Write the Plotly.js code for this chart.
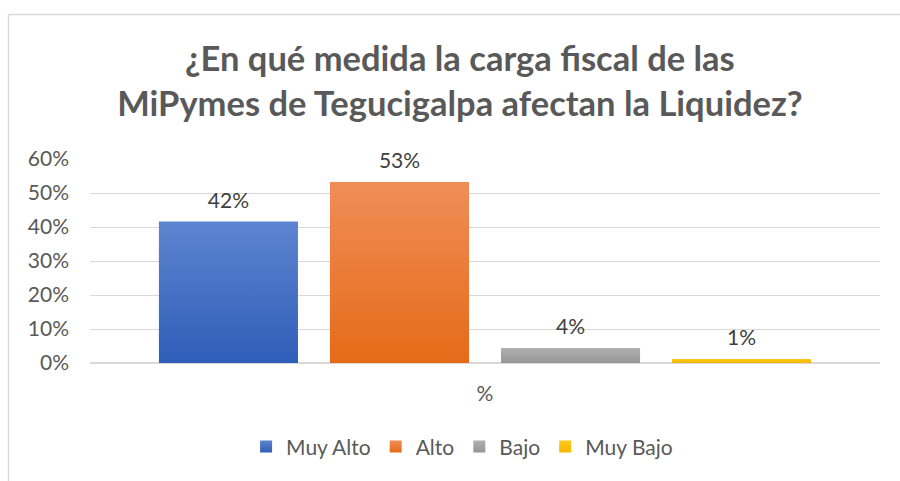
<!DOCTYPE html>
<html>
<head>
<meta charset="utf-8">
<script src="https://cdn.plot.ly/plotly-3.0.1.min.js"></script>
<style>
  html, body { margin: 0; padding: 0; background: #fff; }
  #chart { width: 900px; height: 481px; }
</style>
</head>
<body>
<div id="chart"></div>
<script>
// ---- data ----
const category = ["%"];
const seriesNames = ["Muy Alto", "Alto", "Bajo", "Muy Bajo"];
const seriesValues = [0.416, 0.532, 0.044, 0.012];
const seriesColors = ["#4472c4", "#ed7d31", "#a5a5a5", "#ffc000"];
const gradTop = ["#5d84cf", "#f08d57", "#b0b0b0", "#ffc81f"];
const gradBottom = ["#2f5eb8", "#e56b18", "#969696", "#f5b800"];
const yTickVals = [0, 0.1, 0.2, 0.3, 0.4, 0.5, 0.6];
const titleText = "¿En qué medida la carga fiscal de las<br>MiPymes de Tegucigalpa afectan la Liquidez?";

const FONT = "Lato, 'Open Sans', sans-serif";
const GREY = "#595959";
const BARGAP = 0.134;

const barTraces = seriesNames.map((name, i) => ({
  type: "bar",
  name: name,
  x: category,
  y: [seriesValues[i]],
  offsetgroup: "g" + i,
  marker: { color: seriesColors[i] },
  hoverinfo: "skip"
}));

// value labels, placed above each bar via grouped scatter text
const labelTraces = seriesNames.map((name, i) => ({
  type: "scatter",
  mode: "markers+text",
  name: name + " label",
  x: category,
  y: [seriesValues[i]],
  offsetgroup: "g" + i,
  showlegend: false,
  marker: { size: 12, opacity: 0, color: seriesColors[i] },
  texttemplate: "%{y:.0%}",
  textposition: "top center",
  textfont: { family: FONT, size: 21, color: "#404040" },
  cliponaxis: false,
  hoverinfo: "skip"
}));

const ml = 90, mr = 20, mt = 159, mb = 118;
const pw = 900 - ml - mr, ph = 481 - mt - mb;
const bx = (8.5 - ml) / pw;
const by = (481 - mb - 14.5) / ph;

const layout = {
  width: 900,
  height: 481,
  margin: { l: ml, r: mr, t: mt, b: mb, pad: 0, autoexpand: false },
  paper_bgcolor: "#ffffff",
  plot_bgcolor: "#ffffff",
  font: { family: FONT, color: GREY, size: 21 },
  title: {
    text: titleText,
    font: { family: FONT, size: 34.5, color: GREY, weight: "bold" },
    x: 0.511, xanchor: "center",
    y: 1 - 71 / 481, yanchor: "top"
  },
  barmode: "group",
  bargap: BARGAP,
  bargroupgap: 0.187,
  scattermode: "group",
  scattergap: BARGAP,
  showlegend: true,
  legend: {
    orientation: "h",
    x: 0.471, xanchor: "center",
    y: -0.31, yanchor: "top",
    font: { family: FONT, size: 21, color: GREY },
    itemclick: false, itemdoubleclick: false,
    traceorder: "normal"
  },
  xaxis: {
    type: "category",
    automargin: false,
    showgrid: false,
    showline: false,
    zeroline: false,
    ticks: "",
    tickfont: { family: FONT, size: 21, color: GREY },
    ticklabelstandoff: 16
  },
  yaxis: {
    range: [0, 0.6],
    automargin: false,
    tickvals: yTickVals,
    tickformat: ".0%",
    showgrid: true,
    gridcolor: "#d9d9d9",
    gridwidth: 1,
    zeroline: true,
    zerolinecolor: "#d9d9d9",
    zerolinewidth: 1.5,
    showline: false,
    ticks: "",
    tickfont: { family: FONT, size: 21, color: GREY },
    ticklabelstandoff: 20
  },
  shapes: [
    { type: "line", xref: "paper", yref: "paper", x0: bx, x1: 1.2, y0: by, y1: by,
      line: { color: "#d9d9d9", width: 1.5 } },
    { type: "line", xref: "paper", yref: "paper", x0: bx, x1: bx, y0: by, y1: -0.7,
      line: { color: "#d9d9d9", width: 1.5 } }
  ]
};

Plotly.newPlot("chart", barTraces.concat(labelTraces), layout, { staticPlot: true, displayModeBar: false }).then(gd => {
  // apply vertical gradients similar to the Office style fills
  const svg = gd.querySelector("svg.main-svg");
  const ns = "http://www.w3.org/2000/svg";
  let defs = svg.querySelector("defs");
  if (!defs) { defs = document.createElementNS(ns, "defs"); svg.insertBefore(defs, svg.firstChild); }
  seriesNames.forEach((n, i) => {
    const lg = document.createElementNS(ns, "linearGradient");
    lg.setAttribute("id", "barGrad" + i);
    lg.setAttribute("x1", "0"); lg.setAttribute("y1", "0");
    lg.setAttribute("x2", "0"); lg.setAttribute("y2", "1");
    const s1 = document.createElementNS(ns, "stop");
    s1.setAttribute("offset", "0"); s1.setAttribute("stop-color", gradTop[i]);
    const s2 = document.createElementNS(ns, "stop");
    s2.setAttribute("offset", "1"); s2.setAttribute("stop-color", gradBottom[i]);
    lg.appendChild(s1); lg.appendChild(s2); defs.appendChild(lg);
  });
  gd.querySelectorAll(".barlayer .trace.bars").forEach((t, i) => {
    t.querySelectorAll("path").forEach(p => { p.style.fill = "url(#barGrad" + i + ")"; });
  });
  gd.querySelectorAll(".legend .traces").forEach((t, i) => {
    t.querySelectorAll(".legendpoints path").forEach(p => { p.style.fill = "url(#barGrad" + i + ")"; });
  });
});
</script>
</body>
</html>
